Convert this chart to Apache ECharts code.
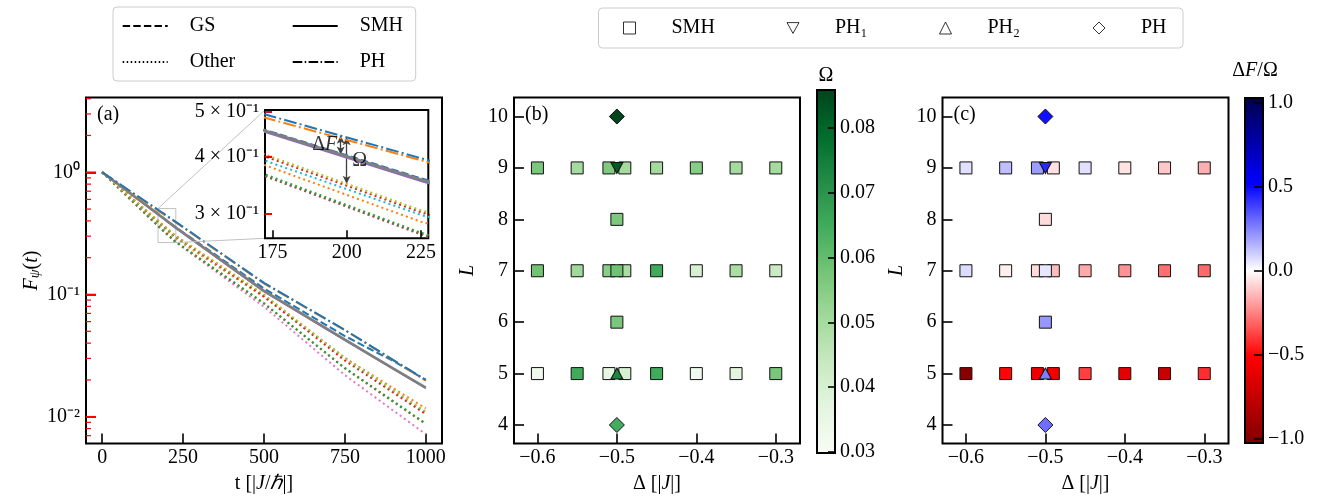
<!DOCTYPE html>
<html><head><meta charset="utf-8">
<script src="https://cdn.jsdelivr.net/npm/echarts@6/dist/echarts.min.js"></script>
<style>html,body{margin:0;padding:0;background:#fff}#c{width:1325px;height:496px}</style>
</head><body><div id="c"></div>
<script>
// ---------------- Panel (a) data: fidelity F_psi(t) read at these times ----------------
const T = [0, 175, 225, 500, 750, 900, 1000];
const F_PH_BLUE    = [1, 0.489, 0.397, 0.1245, 0.0513, 0.0291, 0.0200];
const F_PH_ORANGE  = [1, 0.481, 0.393, 0.1230, 0.0510, 0.0289, 0.0197];
const F_GS         = [1, 0.452, 0.359, 0.1120, 0.0457, 0.0285, 0.0200];
const F_SMH_GRAY   = [1, 0.450, 0.357, 0.1070, 0.0427, 0.0248, 0.0173];
const F_SMH_PURPLE = [1, 0.447, 0.354, 0.1060, 0.0423, 0.0246, 0.0171];
const F_OTH_OLIVE  = [1, 0.399, 0.306, 0.1000, 0.0302, 0.0165, 0.0110];
const F_OTH_RED    = [1, 0.395, 0.303, 0.0966, 0.0288, 0.0157, 0.0105];
const F_OTH_CYAN   = [1, 0.387, 0.299, 0.0977, 0.0302, 0.0163, 0.0108];
const F_OTH_ORANGE = [1, 0.378, 0.289, 0.0955, 0.0302, 0.0171, 0.0117];
const F_OTH_GREEN  = [1, 0.361, 0.2735, 0.0851, 0.0251, 0.0134, 0.0088];
const F_OTH_BROWN  = [1, 0.358, 0.2716, 0.0841, 0.0248, 0.0132, 0.0087];
const F_OTH_PINK   = [1, 0.358, 0.271, 0.0794, 0.0219, 0.0112, 0.0072];

const A_X_LIM = [-50, 1050];
const A_X_TICKS = [0, 250, 500, 750, 1000];
const A_F_LIM = [0.00604, 4.09];
const A_F_DECADES = [0.01, 0.1, 1];
const INSET_X_LIM = [172.5, 227.5];
const INSET_X_TICKS = [175, 200, 225];
const INSET_F_LIM = [0.266, 0.505];
const INSET_F_TICKS = [0.3, 0.4, 0.5];
const ARROW_DF_T = 198, ARROW_OMEGA_T = 200;

// ---------------- Panels (b), (c) data ----------------
const SMH_DELTA = [-0.6,-0.55,-0.51,-0.49,-0.45,-0.4,-0.35,-0.3, -0.5, -0.6,-0.55,-0.51,-0.49,-0.5,-0.45,-0.4,-0.35,-0.3, -0.5, -0.6,-0.55,-0.51,-0.49,-0.45,-0.4,-0.35,-0.3];
const SMH_L     = [9,9,9,9,9,9,9,9, 8, 7,7,7,7,7,7,7,7,7, 6, 5,5,5,5,5,5,5,5];
const SMH_OMEGA = [0.0567,0.050,0.056,0.050,0.050,0.055,0.050,0.050, 0.0565, 0.058,0.051,0.0545,0.049,0.0585,0.065,0.040,0.049,0.043, 0.057, 0.0326,0.065,0.036,0.040,0.065,0.032,0.037,0.057];
const SMH_RATIO = [0.06,0.128,0.20,-0.06,0.06,-0.055,-0.11,-0.16, -0.07, 0.07,-0.03,-0.07,-0.135,0.05,-0.17,-0.22,-0.29,-0.30, 0.21, -1.0,-0.50,-0.58,-0.57,-0.385,-0.61,-0.73,-0.42];
const PH1_DELTA = [-0.5], PH1_L = [9], PH1_OMEGA = [0.082], PH1_RATIO = [0.43];
const PH2_DELTA = [-0.5], PH2_L = [5], PH2_OMEGA = [0.073], PH2_RATIO = [0.26];
const PH_DELTA = [-0.5, -0.5], PH_L = [10, 4], PH_OMEGA = [0.0859, 0.0646], PH_RATIO = [0.48, 0.29];

const D_LIM = [-0.6295, -0.2695];
const D_TICKS = [-0.6, -0.5, -0.4, -0.3];
const L_LIM = [3.64, 10.37];
const L_TICKS = [4, 5, 6, 7, 8, 9, 10];
const OMEGA_LIM = [0.0298, 0.0859];
const OMEGA_TICKS = [0.03, 0.04, 0.05, 0.06, 0.07, 0.08];
const RATIO_LIM = [-1.026, 1.026];
const RATIO_TICKS = [-1, -0.5, 0, 0.5, 1];

const GREENS = ['#f7fcf5','#e5f5e0','#c7e9c0','#a1d99b','#74c476','#41ab5d','#238b45','#006d2c','#00441b'];
const SEISMIC_R = ['#800000','#ff0000','#ffffff','#0000ff','#00004d'];

// ---------------- helpers ----------------
const FONT = 'Liberation Serif';
const FS = 20;
const RICH = {
  n: {fontFamily: FONT, fontSize: FS, color: '#000'},
  i: {fontFamily: FONT, fontSize: FS, color: '#000', fontStyle: 'italic'},
  s: {fontFamily: FONT, fontSize: 14, color: '#000', fontStyle: 'italic', verticalAlign: 'bottom', lineHeight: 10}
};
const lg = Math.log10;
const SUP = {'0':'⁰','1':'¹','2':'²','3':'³','-':'⁻'};
const supStr = s => String(s).split('').map(c => SUP[c] || c).join('');
const minus = v => (v < 0 ? '−' : '') + Math.abs(v).toFixed(1);
function logInterp(F, t) {
  for (let i = 0; i < T.length - 1; i++) {
    if (t >= T[i] && t <= T[i+1]) {
      const f = (t - T[i]) / (T[i+1] - T[i]);
      return lg(F[i]) + f * (lg(F[i+1]) - lg(F[i]));
    }
  }
  return lg(F[F.length-1]);
}
const A_LOG_LIM = [lg(A_F_LIM[0]), lg(A_F_LIM[1])];
const INSET_LOG_LIM = [lg(INSET_F_LIM[0]), lg(INSET_F_LIM[1])];
const MINOR = [];
for (let e = -3; e <= 0; e++) for (let k = 2; k <= 9; k++) {
  const v = lg(k) + e;
  if (v > A_LOG_LIM[0] && v < A_LOG_LIM[1]) MINOR.push(v);
}

const DOT = [2, 3.2], DASH = [7.4, 3.2], DASHDOT = [12.8, 3.2, 2, 3.2];
const CURVES = [
  {name:'o1', F:F_OTH_PINK,   color:'#e377c2', dash:DOT, w:2},
  {name:'o2', F:F_OTH_BROWN,  color:'#8c564b', dash:DOT, w:2},
  {name:'o3', F:F_OTH_GREEN,  color:'#2ca02c', dash:DOT, w:2},
  {name:'o4', F:F_OTH_ORANGE, color:'#ff7f0e', dash:DOT, w:2},
  {name:'o5', F:F_OTH_CYAN,   color:'#17becf', dash:DOT, w:2},
  {name:'o6', F:F_OTH_RED,    color:'#d62728', dash:DOT, w:2},
  {name:'o7', F:F_OTH_OLIVE,  color:'#bcbd22', dash:DOT, w:2},
  {name:'gs', F:F_GS,         color:'#1f77b4', dash:DASH, w:2},
  {name:'s1', F:F_SMH_PURPLE, color:'#9467bd', dash:'solid', w:2},
  {name:'s2', F:F_SMH_GRAY,   color:'#7f7f7f', dash:'solid', w:2.6},
  {name:'p1', F:F_PH_ORANGE,  color:'#ff7f0e', dash:DASHDOT, w:2},
  {name:'p2', F:F_PH_BLUE,    color:'#1f77b4', dash:DASHDOT, w:2}
];
const xy = F => T.map((t, i) => [t, lg(F[i])]);

// y-axis tick marks drawn through the axis scale (left edge, pointing inward)
const TICK_COLOR = '#ff0000';
function yTickSeries(xAxisIndex, yAxisIndex, xEdge, values, len, width) {
  return {type:'custom', xAxisIndex, yAxisIndex, z:50, silent:true, clip:false,
    data: values.map(v => [xEdge, v]),
    renderItem: (params, api) => {
      const p = api.coord([api.value(0), api.value(1)]);
      return {type:'line', z2:100, shape:{x1:p[0], y1:p[1], x2:p[0] + len, y2:p[1]}, style:{stroke:TICK_COLOR, lineWidth:width}};
    }};
}

const series = [];
CURVES.forEach((c, k) => {
  const s = {type:'line', name:c.name, xAxisIndex:0, yAxisIndex:0, data:xy(c.F), symbol:'none',
    lineStyle:{color:c.color, type:c.dash, width:c.w}, z:2, silent:true, clip:true};
  if (k === 0) {
    s.markArea = {silent:true, itemStyle:{color:'rgba(0,0,0,0)', borderColor:'#c0c0c0', borderWidth:1},
      data:[[{coord:[INSET_X_LIM[0], INSET_LOG_LIM[1]]}, {coord:[INSET_X_LIM[1], INSET_LOG_LIM[0]]}]]};
  }
  series.push(s);
});
series.push(yTickSeries(0, 0, A_X_LIM[0], A_F_DECADES.map(lg), 10, 1.6));
series.push(yTickSeries(0, 0, A_X_LIM[0], MINOR, 5, 1.2));
CURVES.forEach(c => {
  series.push({type:'line', name:c.name + 'i', xAxisIndex:1, yAxisIndex:1, data:xy(c.F), symbol:'none',
    lineStyle:{color:c.color, type:c.dash, width:c.w}, z:6, silent:true, clip:true});
});
series.push(yTickSeries(1, 1, INSET_X_LIM[0], INSET_F_TICKS.map(lg), 7, 1.6));
const yDF1 = logInterp(F_PH_BLUE, ARROW_DF_T), yDF2 = logInterp(F_SMH_GRAY, ARROW_DF_T);
const yOM1 = logInterp(F_PH_BLUE, ARROW_OMEGA_T), yOM2 = logInterp(F_OTH_OLIVE, ARROW_OMEGA_T);
series.push({type:'scatter', name:'annot', xAxisIndex:1, yAxisIndex:1, z:8, silent:true,
  symbolSize:1, itemStyle:{color:'rgba(0,0,0,0)'},
  data:[
    {value:[ARROW_DF_T, (yDF1 + yDF2) / 2], label:{show:true, position:'left', distance:3, formatter:'{n|Δ}{i|F}', rich:RICH}},
    {value:[ARROW_OMEGA_T, (yOM1 + yOM2) / 2], label:{show:true, position:'right', distance:5, formatter:'{n|Ω}', rich:RICH}}
  ],
  markLine:{silent:true, symbol:['arrow','arrow'], symbolSize:[6,8], label:{show:false},
    lineStyle:{color:'#404040', width:1.3, type:'solid'},
    data:[[{coord:[ARROW_DF_T, yDF1]}, {coord:[ARROW_DF_T, yDF2]}], [{coord:[ARROW_OMEGA_T, yOM1]}, {coord:[ARROW_OMEGA_T, yOM2]}]]}
});
[['GS', DASH], ['Other', [1.5, 2.5]], ['SMH', 'solid'], ['PH', [9.6, 2.4, 1.5, 2.4]]].forEach(([n, d]) => {
  series.push({type:'line', name:n, xAxisIndex:0, yAxisIndex:0, data:[], symbol:'none',
    lineStyle:{color:'#000', type:d, width:1.5}, itemStyle:{color:'#000'}});
});

const DOWN_TRI = 'path://M0,0L10,0L5,9Z';
const SHAPES = [
  {D:SMH_DELTA, L:SMH_L, O:SMH_OMEGA, R:SMH_RATIO, sym:'rect', size:12},
  {D:PH1_DELTA, L:PH1_L, O:PH1_OMEGA, R:PH1_RATIO, sym:DOWN_TRI, size:[12,11]},
  {D:PH2_DELTA, L:PH2_L, O:PH2_OMEGA, R:PH2_RATIO, sym:'triangle', size:[12,11]},
  {D:PH_DELTA,  L:PH_L,  O:PH_OMEGA,  R:PH_RATIO,  sym:'diamond', size:[15,15]}
];
const B_IDX = [], C_IDX = [];
SHAPES.forEach(sh => {
  B_IDX.push(series.length);
  series.push({type:'scatter', xAxisIndex:2, yAxisIndex:2, symbol:sh.sym, symbolSize:sh.size, z:3, silent:true,
    itemStyle:{borderColor:'#111', borderWidth:1, opacity:1}, data:sh.D.map((d, i) => [d, sh.L[i], sh.O[i]])});
});
SHAPES.forEach(sh => {
  C_IDX.push(series.length);
  series.push({type:'scatter', xAxisIndex:3, yAxisIndex:3, symbol:sh.sym, symbolSize:sh.size, z:3, silent:true,
    itemStyle:{borderColor:'#111', borderWidth:1, opacity:1}, data:sh.D.map((d, i) => [d, sh.L[i], sh.R[i]])});
});
const MARK_LABEL = {mSMH:'SMH', mPH1:'PH₁', mPH2:'PH₂', mPH:'PH'};
[['mSMH','rect'], ['mPH1', DOWN_TRI], ['mPH2','triangle'], ['mPH','diamond']].forEach(([n, s]) => {
  series.push({type:'scatter', name:n, xAxisIndex:2, yAxisIndex:2, data:[], symbol:s,
    itemStyle:{color:'#fff', borderColor:'#000', borderWidth:1}});
});

const tickStyle = {lineStyle:{color:'#000', width:1.6}};
const labelStyle = {fontFamily:FONT, fontSize:FS, color:'#000'};
const noLine = () => ({show:false, onZero:false});
const gridBase = {show:true, borderColor:'#000', borderWidth:2, backgroundColor:'rgba(0,0,0,0)', containLabel:false, outerBoundsMode:'none'};
const plain = v => String(v);

const option = {
  animation:false,
  grid:[
    Object.assign({}, gridBase, {left:86, top:97.5, width:356, height:346}),
    Object.assign({}, gridBase, {left:265, top:110, width:163.3, height:128.3, backgroundColor:'#fff', z:5}),
    Object.assign({}, gridBase, {left:514, top:97.5, width:286, height:346}),
    Object.assign({}, gridBase, {left:942.5, top:97.5, width:286, height:346}),
    Object.assign({}, gridBase, {left:817, top:90, width:18, height:363, z:10}),
    Object.assign({}, gridBase, {left:1245, top:98, width:18, height:345, z:10})
  ],
  xAxis:[
    {gridIndex:0, type:'value', position:'bottom', min:A_X_LIM[0], max:A_X_LIM[1], axisLine:noLine(), splitLine:{show:false},
     axisTick:Object.assign({inside:true, length:10, customValues:A_X_TICKS}, tickStyle),
     axisLabel:Object.assign({customValues:A_X_TICKS, margin:4, formatter:plain}, labelStyle),
     name:'{n|t [|}{i|J}{n|/}{i|ℏ}{n||]}', nameLocation:'middle', nameGap:30, nameTextStyle:{rich:RICH}},
    {gridIndex:1, type:'value', position:'bottom', min:INSET_X_LIM[0], max:INSET_X_LIM[1], axisLine:noLine(), splitLine:{show:false}, z:7,
     axisTick:Object.assign({inside:true, length:8, customValues:INSET_X_TICKS}, tickStyle),
     axisLabel:Object.assign({customValues:INSET_X_TICKS, margin:4, formatter:plain}, labelStyle)},
    {gridIndex:2, type:'value', position:'bottom', min:D_LIM[0], max:D_LIM[1], axisLine:noLine(), splitLine:{show:false},
     axisTick:Object.assign({inside:true, length:10, customValues:D_TICKS}, tickStyle),
     axisLabel:Object.assign({customValues:D_TICKS, margin:4, formatter:minus}, labelStyle),
     name:'{n|Δ [|}{i|J}{n||]}', nameLocation:'middle', nameGap:30, nameTextStyle:{rich:RICH}},
    {gridIndex:3, type:'value', position:'bottom', min:D_LIM[0], max:D_LIM[1], axisLine:noLine(), splitLine:{show:false},
     axisTick:Object.assign({inside:true, length:10, customValues:D_TICKS}, tickStyle),
     axisLabel:Object.assign({customValues:D_TICKS, margin:4, formatter:minus}, labelStyle),
     name:'{n|Δ [|}{i|J}{n||]}', nameLocation:'middle', nameGap:30, nameTextStyle:{rich:RICH}},
    {gridIndex:4, type:'value', show:false, min:0, max:1},
    {gridIndex:5, type:'value', show:false, min:0, max:1}
  ],
  yAxis:[
    {gridIndex:0, type:'value', position:'left', min:A_LOG_LIM[0], max:A_LOG_LIM[1], axisLine:noLine(), splitLine:{show:false},
     axisTick:{show:true, inside:true, length:10, customValues:A_F_DECADES.map(lg), lineStyle:{color:'#0000ff', width:1.6}},
     axisLabel:Object.assign({customValues:A_F_DECADES.map(lg), margin:6, formatter:v => '10' + supStr(Math.round(v))}, labelStyle),
     name:'{i|F}{s|ψ}{n|(}{i|t}{n|)}', nameLocation:'middle', nameGap:44, nameTextStyle:{rich:RICH}},
    {gridIndex:1, type:'value', position:'left', min:INSET_LOG_LIM[0], max:INSET_LOG_LIM[1], axisLine:noLine(), splitLine:{show:false}, z:7,
     axisTick:{show:true, inside:true, length:7, customValues:INSET_F_TICKS.map(lg), lineStyle:{color:'#0000ff', width:1.6}},
     axisLabel:Object.assign({customValues:INSET_F_TICKS.map(lg), margin:6,
       formatter:v => Math.round(Math.pow(10, v) * 10) + ' × 10⁻¹'}, labelStyle)},
    {gridIndex:2, type:'value', position:'left', min:L_LIM[0], max:L_LIM[1], axisLine:noLine(), splitLine:{show:false},
     axisTick:Object.assign({inside:true, length:10, customValues:L_TICKS}, tickStyle),
     axisLabel:Object.assign({customValues:L_TICKS, margin:6}, labelStyle),
     name:'{i|L}', nameLocation:'middle', nameGap:36, nameTextStyle:{rich:RICH}},
    {gridIndex:3, type:'value', position:'left', min:L_LIM[0], max:L_LIM[1], axisLine:noLine(), splitLine:{show:false},
     axisTick:Object.assign({inside:true, length:10, customValues:L_TICKS}, tickStyle),
     axisLabel:Object.assign({customValues:L_TICKS, margin:6}, labelStyle),
     name:'{i|L}', nameLocation:'middle', nameGap:36, nameTextStyle:{rich:RICH}},
    {gridIndex:4, type:'value', position:'right', min:OMEGA_LIM[0], max:OMEGA_LIM[1], axisLine:noLine(), splitLine:{show:false}, z:11,
     axisTick:Object.assign({inside:true, length:7, customValues:OMEGA_TICKS}, tickStyle),
     axisLabel:Object.assign({customValues:OMEGA_TICKS, margin:5, formatter:v => v.toFixed(2)}, labelStyle)},
    {gridIndex:5, type:'value', position:'right', min:RATIO_LIM[0], max:RATIO_LIM[1], axisLine:noLine(), splitLine:{show:false}, z:11,
     axisTick:Object.assign({inside:true, length:9, customValues:RATIO_TICKS}, tickStyle),
     axisLabel:Object.assign({customValues:RATIO_TICKS, margin:5, formatter:minus}, labelStyle)}
  ],
  visualMap:[
    {type:'continuous', seriesIndex:B_IDX, dimension:2, min:OMEGA_LIM[0], max:OMEGA_LIM[1], inRange:{color:GREENS},
     left:817, top:90, itemWidth:18, itemHeight:363, padding:0, calculable:false, hoverLink:false, orient:'vertical', show:true, text:null},
    {type:'continuous', seriesIndex:C_IDX, dimension:2, min:RATIO_LIM[0], max:RATIO_LIM[1], inRange:{color:SEISMIC_R},
     left:1245, top:98, itemWidth:18, itemHeight:345, padding:0, calculable:false, hoverLink:false, orient:'vertical', show:true, text:null}
  ],
  legend:[
    {orient:'vertical', left:113, top:7, height:70, padding:[7,7,7,8.7], itemGap:12, itemWidth:45, itemHeight:14,
     backgroundColor:'#fff', borderColor:'#cccccc', borderWidth:1, borderRadius:4, selectedMode:false,
     itemStyle:{opacity:0, color:'rgba(0,0,0,0)', borderWidth:0},
     textStyle:{fontFamily:FONT, fontSize:FS, color:'#000', lineHeight:24, padding:[0,0,0,17]},
     data:[{name:'GS', textStyle:{width:90}}, {name:'Other', textStyle:{width:90}}, {name:'SMH', textStyle:{width:49}}, {name:'PH', textStyle:{width:49}}]},
    {orient:'horizontal', left:598.5, top:8, padding:[8,12,8,24.5], itemGap:20, itemWidth:12, itemHeight:12,
     backgroundColor:'#fff', borderColor:'#cccccc', borderWidth:1, borderRadius:4, selectedMode:false,
     itemStyle:{color:'#fff', borderColor:'#000', borderWidth:1},
     formatter:n => MARK_LABEL[n],
     textStyle:{fontFamily:FONT, fontSize:FS, color:'#000', lineHeight:24, padding:[0,0,0,31]},
     data:[{name:'mSMH', textStyle:{width:95}}, {name:'mPH1', textStyle:{width:84}}, {name:'mPH2', textStyle:{width:85}}, {name:'mPH', textStyle:{width:30}}]}
  ],
  graphic:[
    {id:'la', type:'text', x:97, y:115, z:20, style:{text:'(a)', fontFamily:FONT, fontSize:FS, fill:'#000', verticalAlign:'middle'}},
    {id:'lb', type:'text', x:525, y:115, z:20, style:{text:'(b)', fontFamily:FONT, fontSize:FS, fill:'#000', verticalAlign:'middle'}},
    {id:'lc', type:'text', x:953.5, y:115, z:20, style:{text:'(c)', fontFamily:FONT, fontSize:FS, fill:'#000', verticalAlign:'middle'}},
    {id:'cb1', type:'text', x:826, y:76, z:20, style:{text:'Ω', fontFamily:FONT, fontSize:FS, fill:'#000', align:'center', verticalAlign:'middle'}},
    {id:'cb2', type:'text', x:1255, y:71, z:20, style:{text:'{n|Δ}{i|F}{n|/Ω}', rich:RICH, align:'center', verticalAlign:'middle'}}
  ],
  series: series
};

const chart = echarts.init(document.getElementById('c'), null, {renderer:'canvas', width:1325, height:496});
chart.setOption(option);

const mainF = {xAxisIndex:0, yAxisIndex:0}, insF = {xAxisIndex:1, yAxisIndex:1};
const r1 = chart.convertToPixel(mainF, [INSET_X_LIM[0], INSET_LOG_LIM[1]]);
const i1 = chart.convertToPixel(insF, [INSET_X_LIM[0], INSET_LOG_LIM[1]]);
const r2 = chart.convertToPixel(mainF, [INSET_X_LIM[1], INSET_LOG_LIM[0]]);
const i2 = chart.convertToPixel(insF, [INSET_X_LIM[0], INSET_LOG_LIM[0]]);
chart.setOption({graphic:[
  {id:'c1', type:'line', z:3, shape:{x1:r1[0], y1:r1[1], x2:i1[0], y2:i1[1]}, style:{stroke:'#c0c0c0', lineWidth:1}},
  {id:'c2', type:'line', z:3, shape:{x1:r2[0], y1:r2[1], x2:i2[0], y2:i2[1]}, style:{stroke:'#c0c0c0', lineWidth:1}}
]});
</script></body></html>
